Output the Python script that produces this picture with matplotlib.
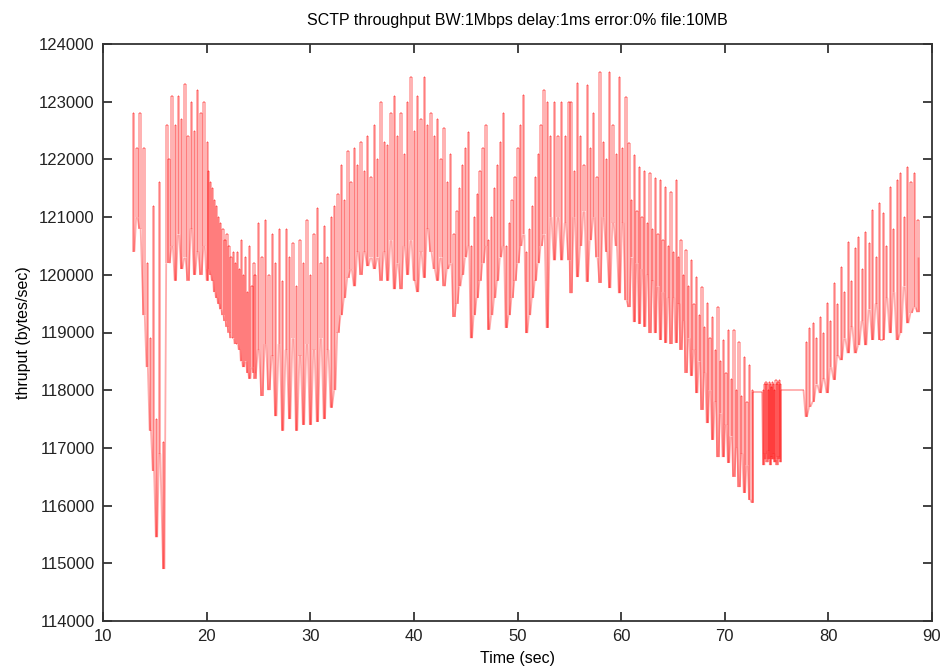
import numpy as np
import matplotlib
matplotlib.use("Agg")
import matplotlib.pyplot as plt
from matplotlib.collections import LineCollection

plt.rcParams['font.family'] = ['Liberation Sans', 'DejaVu Sans']

titre = "SCTP throughput BW:1Mbps delay:1ms error:0% file:10MB"

# debut : pics explicites
a_t = [12.9, 13.2, 13.5, 13.9, 14.2, 14.5, 14.8, 15.1, 15.4, 15.8, 16.1]
a_hi = [122800, 122200, 122800, 122200, 120200, 118900, 121200, 117500, 121600, 117100, 122600]
a_lo = [120400, 121000, 120800, 119300, 118400, 117300, 116600, 115450, 116900, 114900, 120200]

b_t = (16.3, 20.0)
b_hi = [122000, 123100, 122600, 123100, 122700, 123300, 122400, 123000, 122500, 123200, 122800, 123000, 122300]
b_lo = [120200, 120500, 119900, 120700, 120100, 120300, 119900, 120800, 120000, 120400, 120000, 120500, 119900]

c_t = (20.1, 24.5)
c_hi = [121800, 121600, 121500, 121300, 121200, 121000, 120900, 120800, 120600, 120700, 120500, 120300,
        120400, 120200, 120400, 120100, 120600, 120000, 120300, 119700, 120500, 119800, 120200]
c_lo = [120100, 120000, 119900, 119700, 119600, 119500, 119400, 119300, 119200, 119100, 119000, 118900,
        118900, 118800, 118800, 118700, 118500, 118400, 118500, 118300, 118200, 118400, 118300]

d_t = (24.6, 32.3)
d_hi = [120000, 120900, 120300, 120950, 120000, 120700, 120200, 120800, 119900, 120800, 120300, 120550,
        119800, 120600, 120200, 120950, 120000, 120700, 121150, 120200, 120850, 120300, 121000, 121200]
d_lo = [118200, 118700, 117900, 118800, 118000, 118600, 117550, 118800, 117300, 118700, 117500, 118900,
        117300, 118600, 117400, 118800, 117400, 118700, 117450, 118900, 117500, 118700, 117700, 118000]

e_t = (32.6, 43.5)
e_hi = [121400, 121900, 121300, 122150, 121600, 122200, 121900, 122300, 121800, 122400, 121700, 122600,
        122000, 123000, 122300, 122250, 122800, 123100, 122400, 122800, 122100, 123000, 123430, 122500,
        123100, 122700, 123430, 122600, 122800, 122400, 122700, 122000, 122550, 121600, 122100]
e_lo = [119000, 119300, 119600, 119950, 120100, 119800, 120400, 120000, 120400, 120150, 120300, 120100,
        120300, 119900, 120400, 119900, 120600, 119750, 120200, 119750, 120500, 120000, 120600, 119900,
        119700, 120400, 119950, 120800, 120400, 120100, 119900, 120300, 119800, 120100, 120200]

# dents de scie 43.8 - 52.5 s
f_t = (43.8, 52.5)
f_hi = [120700, 121100, 121500, 121900, 122200, 122470,
        120500, 121000, 121400, 121800, 122200, 122600,
        120600, 121000, 121500, 121900, 122300, 122800,
        120500, 120900, 121300, 121700, 122200, 122600, 123120,
        120400, 120800, 121200, 121700, 122100, 122600, 123200]
f_lo = [119270, 119500, 119800, 120000, 120300, 120500,
        118900, 119300, 119600, 119900, 120200, 120500,
        119050, 119300, 119600, 119900, 120300, 120500,
        119080, 119300, 119600, 119900, 120200, 120500, 120700,
        118990, 119300, 119600, 119900, 120200, 120500, 120700]

g_t = (52.8, 54.9)
g_hi = [123000, 122400, 123000, 122400, 123000, 122400, 123000]
g_lo = [119080, 121000, 120250, 121000, 120250, 120900, 120250]

h_t = (55.1, 60.4)
h_hi = [123000, 121800, 123320, 122400, 121900, 123290, 122200, 122800, 121700, 123520, 122300, 122000,
        123520, 122600, 122100, 123430, 122200, 123080]
h_lo = [119680, 121000, 119960, 120500, 121100, 119880, 120600, 121000, 120300, 119860, 121000, 120400,
        119770, 120900, 120500, 119680, 120900, 119560]

i_t = (60.7, 65.5)
i_hi = [122280, 121300, 122080, 121100, 121870, 121000, 121800, 120900, 121760, 120800, 121680, 120700,
        121640, 120600, 121520, 120500, 121440, 120400, 121640, 120300]
i_lo = [119440, 120300, 119180, 120200, 119150, 120100, 119100, 120000, 118990, 119900, 118990, 119800,
        118870, 119700, 118820, 119600, 118800, 119600, 118820, 119500]

j_t = (65.7, 72.6)
j_hi = [120600, 120000, 120430, 119800, 120250, 119500, 119960, 119300, 119790, 119100, 119510, 118900,
        119270, 118700, 119440, 118500, 118870, 118300, 119050, 118200, 119050, 118000, 118840, 117900,
        118580, 117800, 118440, 118000]
j_lo = [118700, 119200, 118300, 118900, 118250, 118700, 117950, 118500, 117660, 118300, 117430, 118000,
        117140, 117800, 116840, 117600, 116840, 117400, 116740, 117200, 116500, 117000, 116320, 116900,
        116220, 116700, 116100, 116050]

# palier puis bloc dense
k_t = [72.7, 73.6]
k_val = [117970, 117970]

l_t = (73.7, 75.3)
l_hi = [118000, 118100, 118150, 118100, 118000, 118150, 118100, 118050, 118150, 118100, 118000, 118180,
        118100, 118150, 118180, 118100]
l_lo = [116700, 116900, 116800, 116750, 116950, 116800, 116700, 116850, 116800, 116900, 116750, 116800,
        116700, 116850, 116800, 116750]

m_t = [75.4, 77.6]
m_val = [118000, 118000]

n_t = (77.8, 88.6)
n_hi = [118840, 119080, 119160, 118900, 119270, 119000, 119510, 119200, 119860, 119500, 120140, 119700,
        120570, 119900, 120470, 120660, 120100, 120740, 120550, 121120, 120300, 121240, 121070, 120500,
        121520, 120800, 121640, 121760, 121000, 121870, 121610, 121760, 120950]
n_lo = [117540, 117710, 117800, 118100, 117950, 118200, 117950, 118400, 118180, 118600, 118520, 118900,
        118640, 119100, 118640, 118780, 119200, 118780, 119400, 118870, 119500, 118870, 118870, 119600,
        118990, 119700, 118870, 118990, 119800, 119160, 119340, 119440, 119350]
fin_t = 88.7
fin_val = 120300

largeur = 0.13  # largeur d'un pic (sec)


def pics(temps, hauts, bas):
    # montee verticale, petit palier en haut, puis descente verticale
    pts = []
    for t, h, b in zip(temps, hauts, bas):
        pts.append((t, b))
        pts.append((t, h))
        pts.append((t + largeur, h))
        pts.append((t + largeur, b))
    return pts


def temps_segment(bornes, n):
    return np.linspace(bornes[0], bornes[1], n)


points = []
points += pics(a_t, a_hi, a_lo)
points += pics(temps_segment(b_t, len(b_hi)), b_hi, b_lo)
points += pics(temps_segment(c_t, len(c_hi)), c_hi, c_lo)
points += pics(temps_segment(d_t, len(d_hi)), d_hi, d_lo)
points += pics(temps_segment(e_t, len(e_hi)), e_hi, e_lo)
points += pics(temps_segment(f_t, len(f_hi)), f_hi, f_lo)
points += pics(temps_segment(g_t, len(g_hi)), g_hi, g_lo)
points += pics(temps_segment(h_t, len(h_hi)), h_hi, h_lo)
points += pics(temps_segment(i_t, len(i_hi)), i_hi, i_lo)
points += pics(temps_segment(j_t, len(j_hi)), j_hi, j_lo)
points += list(zip(k_t, k_val))
points += pics(temps_segment(l_t, len(l_hi)), l_hi, l_lo)
points += list(zip(m_t, m_val))
points += pics(temps_segment(n_t, len(n_hi)), n_hi, n_lo)
points.append((fin_t, fin_val))

pts = np.array(points, dtype=float)
segs = np.stack([pts[:-1], pts[1:]], axis=1)

fig = plt.figure(figsize=(9.46, 6.68), dpi=100)
ax = fig.add_axes([103 / 946, 47 / 668, 829 / 946, 577 / 668])

lc = LineCollection(segs, colors=[(1, 0, 0, 0.33)], linewidths=1.3)
ax.add_collection(lc)

ax.set_xlim(10, 90)
ax.set_ylim(114000, 124000)
ax.set_xticks(np.arange(10, 91, 10))
ax.set_yticks(np.arange(114000, 124001, 1000))
ax.ticklabel_format(useOffset=False, style='plain')
ax.tick_params(direction='in', top=True, right=True, length=6.5, width=1.2,
               labelsize=12, pad=6, colors='#222222')
for sp in ax.spines.values():
    sp.set_linewidth(1.3)
    sp.set_color('#333333')

ax.set_title(titre, fontsize=11.5, pad=14)
ax.set_xlabel('Time (sec)', fontsize=11.5, labelpad=5)
ax.set_ylabel('thruput (bytes/sec)', fontsize=11.5, labelpad=6)

fig.savefig('out.png', dpi=100)
